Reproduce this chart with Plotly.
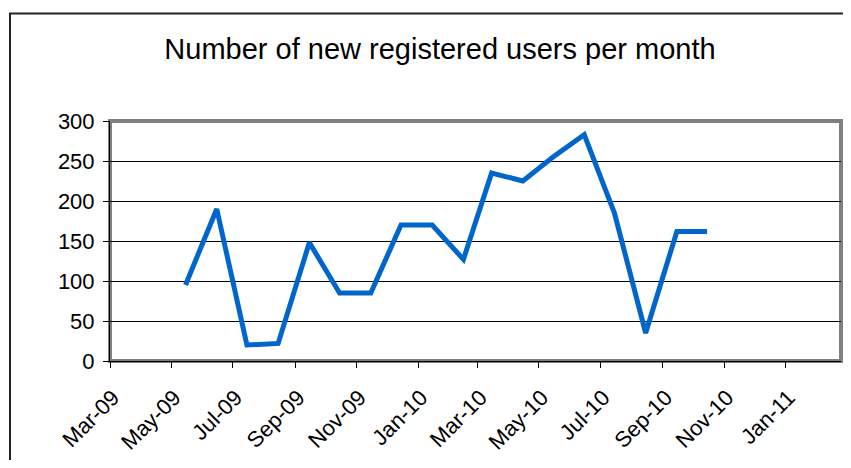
import plotly.graph_objects as go

months = ["2009-05-15", "2009-06-15", "2009-07-15", "2009-08-15", "2009-09-15",
          "2009-10-15", "2009-11-15", "2009-12-15", "2010-01-15", "2010-02-15",
          "2010-03-15", "2010-04-15", "2010-05-15", "2010-06-15", "2010-07-15",
          "2010-08-15", "2010-09-15", "2010-10-15"]
new_users = [95, 190, 20, 22, 148, 85, 85, 170, 170, 127,
             235, 225, 255, 283, 185, 35, 162, 162]

title_text = "Number of new registered users per month"
y_ticks = [0, 50, 100, 150, 200, 250, 300]

FONT = "Liberation Sans, Arial, sans-serif"

# page body has an 8px default margin; keep the figure inside the viewport
OFF = 8
W, H = 851 - 2 * OFF, 468 - 2 * OFF
L, T = 110 - OFF, 121 - OFF
R = W - (841 - OFF)
B = H - (361 - OFF)
pw, ph = W - L - R, H - T - B

def px_x(x):
    return (x - OFF - L) / pw

def px_y(y):
    return (H - B - (y - OFF)) / ph

fig = go.Figure()
fig.add_trace(go.Scatter(
    x=months, y=new_users, mode="lines",
    line=dict(color="#0066CC", width=5),
    showlegend=False, hoverinfo="x+y",
))

fig.update_layout(
    width=W, height=H,
    margin=dict(l=L, r=R, t=T, b=B, pad=0, autoexpand=False),
    paper_bgcolor="white", plot_bgcolor="white",
    font=dict(family=FONT, size=22, color="black"),
    title=dict(text=title_text, x=432 / W, xanchor="center",
               y=1 - 41 / H, yanchor="middle",
               font=dict(family=FONT, size=29, color="black")),
    xaxis=dict(
        type="date",
        range=["2009-03-01", "2011-02-25"],
        tick0="2009-03-01", dtick="M2", tickformat="%b-%y",
        tickangle=-45, automargin=False,
        ticks="outside", ticklen=6, tickcolor="black", tickwidth=1,
        ticklabelstandoff=8, ticklabelshift=3,
        showgrid=False, showline=True, linecolor="black", linewidth=1,
        zeroline=False,
        tickfont=dict(family=FONT, size=22, color="black"),
        fixedrange=True,
    ),
    yaxis=dict(
        range=[0, 300], automargin=False,
        tickvals=y_ticks,
        ticks="outside", ticklen=6, tickcolor="black", tickwidth=1,
        ticklabelstandoff=4,
        showgrid=True, gridcolor="black", gridwidth=1,
        showline=True, linecolor="black", linewidth=1,
        zeroline=False,
        tickfont=dict(family=FONT, size=22, color="black"),
        fixedrange=True,
    ),
    shapes=[
        # outer chart border
        dict(type="rect", xref="paper", yref="paper",
             x0=px_x(10), x1=px_x(900), y0=px_y(520), y1=px_y(13.5),
             line=dict(color="#222222", width=2), layer="below"),
        # plot area border (gray)
        dict(type="rect", xref="paper", yref="paper",
             x0=0, x1=1, y0=0, y1=1,
             line=dict(color="#808080", width=4), layer="below"),
    ],
)

fig.write_html("out.html")
